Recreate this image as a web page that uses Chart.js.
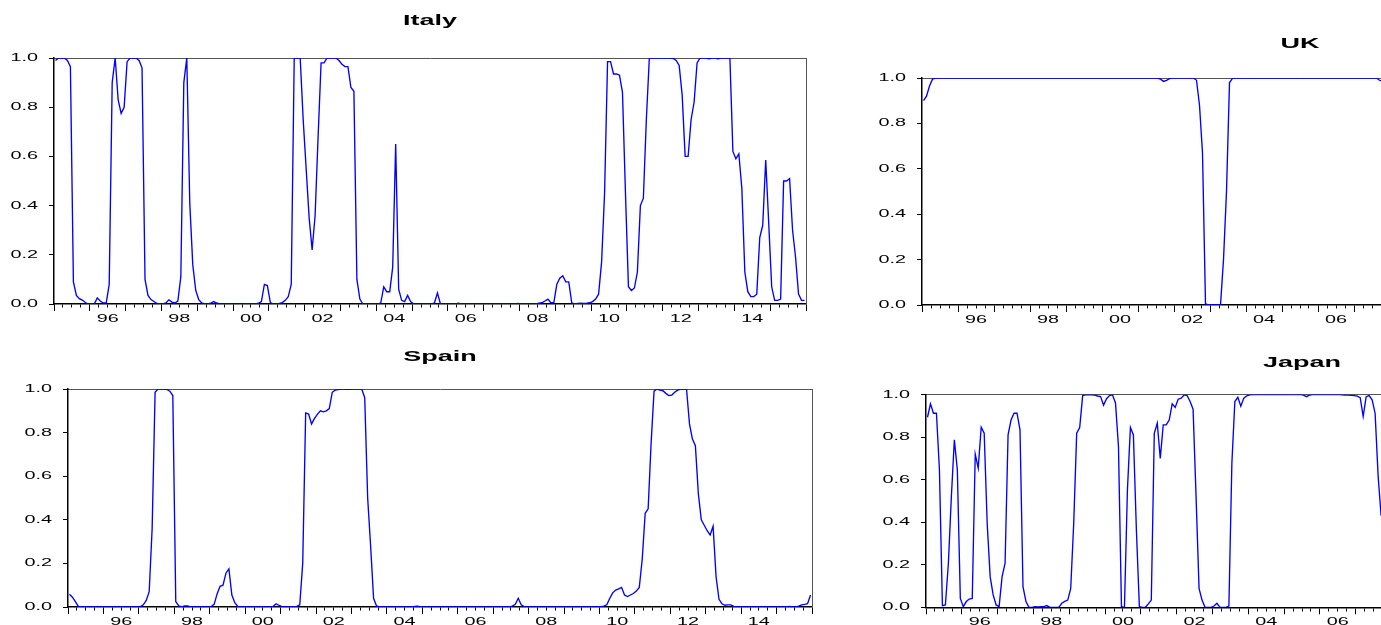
<!DOCTYPE html>
<html>
<head>
<meta charset="utf-8">
<script src="https://cdn.jsdelivr.net/npm/chart.js@4.4.1/dist/chart.umd.min.js"></script>
<style>
  html, body { margin: 0; padding: 0; background: #ffffff; overflow: hidden; width: 1381px; height: 625px; position: relative; }
  canvas { position: absolute; }
</style>
</head>
<body>
<canvas id="cItaly"></canvas>
<canvas id="cUK"></canvas>
<canvas id="cSpain"></canvas>
<canvas id="cJapan"></canvas>
<script>
// ---------------- DATA (monthly, 1995M01 onward) ----------------
const START_YEAR = 1995;
const TOTAL_MONTHS = 252;           // 1995M01 .. 2015M12
const yearLabelYears = [1996, 1998, 2000, 2002, 2004, 2006, 2008, 2010, 2012, 2014];
const yearLabels = ['96', '98', '00', '02', '04', '06', '08', '10', '12', '14'];
const yTickValues = [0, 0.2, 0.4, 0.6, 0.8, 1.0];
const yTickLabels = ['0.0', '0.2', '0.4', '0.6', '0.8', '1.0'];

const italy = [
  0.99,1.0,1.0,1.0,0.99,0.965,0.09,0.035,0.022,0.016,0.006,0.0,
  0.0,0.0,0.025,0.012,0.004,0.005,0.08,0.9,1.0,0.83,0.775,0.8,
  0.985,1.0,1.0,1.0,0.99,0.96,0.1,0.035,0.018,0.01,0.002,0.0,
  0.0,0.004,0.017,0.008,0.004,0.012,0.11,0.9,1.0,0.41,0.16,0.055,
  0.018,0.004,0.0,0.0,0.003,0.01,0.004,0.0,0.0,0.0,0.001,0.0,
  0.0,0.0,0.0,0.0,0.001,0.0,0.0,0.0,0.003,0.01,0.08,0.075,
  0.006,0.0,0.0,0.002,0.006,0.015,0.03,0.08,1.0,1.0,1.0,0.75,
  0.55,0.35,0.22,0.36,0.68,0.98,0.98,1.0,1.0,1.0,1.0,0.99,
  0.975,0.965,0.965,0.88,0.865,0.1,0.02,0.0,0.0,0.0,0.0,0.0,
  0.0,0.005,0.07,0.05,0.05,0.15,0.65,0.06,0.015,0.01,0.035,0.01,
  0.0,0.0,0.0,0.0,0.0,0.0,0.0,0.005,0.045,0.0,0.0,0.0,
  0.0,0.0,0.0,0.003,0.0,0.0,0.0,0.0,0.0,0.0,0.0,0.0,
  0.0,0.0,0.0,0.0,0.0,0.0,0.0,0.0,0.0,0.0,0.0,0.002,
  0.0,0.0,0.0,0.0,0.0,0.0,0.003,0.005,0.012,0.02,0.005,0.006,
  0.08,0.105,0.115,0.09,0.09,0.005,0.0,0.002,0.003,0.002,0.003,0.005,
  0.01,0.02,0.04,0.17,0.45,0.985,0.985,0.935,0.935,0.93,0.86,0.45,
  0.07,0.055,0.065,0.13,0.4,0.43,0.75,1.0,1.0,1.0,1.0,1.0,
  1.0,1.0,1.0,0.998,0.99,0.97,0.85,0.6,0.6,0.75,0.82,0.98,
  1.0,1.0,1.0,0.997,1.0,1.0,0.997,1.0,1.0,1.0,1.0,0.62,
  0.59,0.61,0.47,0.13,0.05,0.03,0.03,0.04,0.27,0.32,0.585,0.33,
  0.07,0.015,0.015,0.02,0.5,0.5,0.51,0.3,0.19,0.04,0.015,0.015
];

const spain = [
  0.058,0.045,0.025,0.003,0.0,0.0,0.0,0.0,0.0,0.0,0.0,0.0,
  0.0,0.0,0.0,0.0,0.0,0.0,0.0,0.0,0.0,0.0,0.0,0.0,
  0.002,0.01,0.03,0.07,0.36,0.985,1.0,1.0,1.0,0.998,0.99,0.97,
  0.025,0.005,0.0,0.005,0.005,0.0,0.0,0.0,0.0,0.0,0.0,0.0,
  0.002,0.012,0.06,0.095,0.1,0.155,0.175,0.055,0.02,0.003,0.0,0.0,
  0.0,0.0,0.0,0.0,0.0,0.0,0.0,0.0,0.0,0.003,0.015,0.007,
  0.002,0.0,0.0,0.0,0.0,0.003,0.01,0.2,0.89,0.885,0.84,0.865,
  0.885,0.9,0.895,0.9,0.91,0.985,0.995,0.997,1.0,1.0,0.998,0.998,
  1.0,1.0,1.0,1.0,0.96,0.5,0.28,0.04,0.005,0.0,0.0,0.0,
  0.0,0.0,0.0,0.0,0.0,0.0,0.0,0.0,0.0,0.003,0.004,0.0,
  0.0,0.0,0.0,0.0,0.0,0.0,0.0,0.0,0.0,0.0,0.0,0.0,
  0.0,0.0,0.0,0.0,0.0,0.0,0.0,0.0,0.0,0.0,0.0,0.0,
  0.0,0.0,0.0,0.0,0.0,0.0,0.004,0.012,0.04,0.01,0.002,0.0,
  0.0,0.0,0.0,0.0,0.0,0.0,0.0,0.0,0.0,0.0,0.0,0.0,
  0.0,0.0,0.0,0.0,0.0,0.0,0.0,0.0,0.0,0.0,0.0,0.0,
  0.002,0.004,0.01,0.04,0.065,0.078,0.083,0.09,0.055,0.048,0.055,0.062,
  0.073,0.09,0.22,0.43,0.45,0.75,0.99,1.0,0.995,0.992,0.98,0.97,
  0.972,0.985,0.995,1.0,1.0,1.0,0.84,0.77,0.74,0.52,0.4,0.375,
  0.35,0.33,0.37,0.14,0.035,0.015,0.008,0.01,0.01,0.003,0.0,0.0,
  0.0,0.0,0.0,0.0,0.0,0.0,0.0,0.0,0.0,0.0,0.0,0.0,
  0.0,0.0,0.0,0.0,0.003,0.0,0.0,0.004,0.01,0.012,0.015,0.055
];

// visible part only (panel is cut at the window edge)
const uk = [
  0.9,0.92,0.965,0.995,1.0,1.0,1.0,1.0,1.0,1.0,1.0,1.0,
  1.0,1.0,1.0,1.0,1.0,1.0,1.0,1.0,1.0,1.0,1.0,1.0,
  1.0,1.0,1.0,1.0,1.0,1.0,1.0,1.0,1.0,1.0,1.0,1.0,
  1.0,1.0,1.0,1.0,1.0,1.0,1.0,1.0,1.0,1.0,1.0,1.0,
  1.0,1.0,1.0,1.0,1.0,1.0,1.0,1.0,1.0,1.0,1.0,1.0,
  1.0,1.0,1.0,1.0,1.0,1.0,1.0,1.0,1.0,1.0,1.0,1.0,
  1.0,1.0,1.0,1.0,1.0,1.0,1.0,0.995,0.985,0.99,0.997,1.0,
  1.0,1.0,1.0,1.0,1.0,1.0,1.0,0.99,0.88,0.67,0.005,0.0,
  0.0,0.0,0.0,0.0,0.2,0.5,0.98,0.998,1.0,1.0,1.0,1.0,
  1.0,1.0,1.0,1.0,1.0,1.0,1.0,1.0,1.0,1.0,1.0,1.0,
  1.0,1.0,1.0,1.0,1.0,1.0,1.0,1.0,1.0,1.0,1.0,1.0,
  1.0,1.0,1.0,1.0,1.0,1.0,1.0,1.0,1.0,1.0,1.0,1.0,
  1.0,1.0,1.0,1.0,1.0,1.0,1.0,1.0,0.99,0.985
];

const japan = [
  0.893,0.956,0.912,0.912,0.646,0.008,0.011,0.207,0.52,0.787,0.646,0.042,
  0.003,0.027,0.039,0.042,0.72,0.654,0.846,0.818,0.395,0.144,0.058,0.011,
  0.003,0.144,0.207,0.81,0.88,0.912,0.912,0.834,0.097,0.027,0.0,0.0,
  0.003,0.002,0.003,0.003,0.008,0.0,0.0,0.0,0.0,0.019,0.028,0.034,
  0.089,0.395,0.818,0.845,0.995,0.998,0.998,0.998,0.997,0.993,0.99,0.95,
  0.98,0.995,0.998,0.96,0.755,0.003,0.0,0.552,0.845,0.81,0.364,0.003,
  0.0,0.0,0.016,0.034,0.818,0.865,0.70,0.857,0.857,0.88,0.956,0.939,
  0.978,0.983,0.998,0.995,0.967,0.931,0.52,0.089,0.034,0.0,0.0,0.0,
  0.006,0.019,0.0,0.0,0.0,0.006,0.677,0.967,0.987,0.945,0.983,0.994,
  0.998,1.0,1.0,1.0,1.0,1.0,1.0,1.0,1.0,1.0,1.0,1.0,
  1.0,1.0,1.0,1.0,1.0,1.0,0.997,0.99,0.997,1.0,1.0,1.0,
  1.0,1.0,1.0,1.0,1.0,1.0,1.0,0.998,0.997,0.997,0.996,0.995,
  0.992,0.985,0.897,0.99,0.995,0.975,0.912,0.62,0.43
];

// ---------------- RENDERING ----------------
Chart.defaults.font.family = '"Liberation Sans", Arial, Helvetica, sans-serif';
Chart.defaults.color = '#000';

const TEXT_STRETCH = 1.8; // reference text is horizontally widened
const stretchText = {
  id: 'stretchText',
  beforeDraw(chart) {
    const ctx = chart.ctx;
    if (ctx.__stretched) return;
    const orig = ctx.fillText;
    ctx.fillText = function (text, x, y) {
      this.save();
      this.translate(x, y);
      this.scale(TEXT_STRETCH, 1);
      orig.call(this, text, 0, 0);
      this.restore();
    };
    ctx.__stretched = true;
  }
};

function isMajor(v) { return Math.round(v + 0.5) % 12 === 0; }
function xLabel(v) {
  const m = Math.round(v + 0.5) - 6;
  if (m % 12 !== 0) return '';
  const idx = yearLabelYears.indexOf(START_YEAR + m / 12);
  return idx >= 0 ? yearLabels[idx] : '';
}

function makePanel(id, title, values, g) {
  const cv = document.getElementById(id);
  cv.width = g.w; cv.height = g.h;
  cv.style.left = g.left + 'px'; cv.style.top = g.top + 'px';
  cv.style.width = g.w + 'px'; cv.style.height = g.h + 'px';
  const pts = values.map((v, i) => ({ x: i, y: v }));
  return new Chart(cv, {
    type: 'line',
    data: { datasets: [{ data: pts, borderColor: '#0000ff', borderWidth: 1.35, pointRadius: 0, fill: false, tension: 0 }] },
    options: {
      responsive: false, animation: false, devicePixelRatio: 1, events: [],
      layout: { padding: 0 },
      plugins: {
        legend: { display: false }, tooltip: { enabled: false },
        title: { display: true, text: title, color: '#000', font: { size: 15, weight: 'bold' },
                 padding: { top: g.tTop, bottom: g.tBottom } }
      },
      scales: {
        x: {
          type: 'linear', position: 'bottom', min: -0.5, max: TOTAL_MONTHS - 0.5,
          afterFit: s => { s.height = g.xH; },
          afterBuildTicks: s => {
            const t = [];
            for (let m = 0; m <= TOTAL_MONTHS; m += 3) t.push({ value: m - 0.5 });
            s.ticks = t;
          },
          ticks: { autoSkip: false, maxRotation: 0, minRotation: 0, padding: 1, color: '#000',
                   font: { size: 11 }, callback: v => xLabel(v) },
          grid: { drawOnChartArea: false, drawTicks: true, tickLength: 7, tickWidth: 1, tickColor: '#000',
                  tickBorderDash: c => (c.tick && isMajor(c.tick.value)) ? [] : [3, 40] },
          border: { display: true, color: '#000', width: 1.5 }
        },
        x2: {
          type: 'linear', position: 'top', min: -0.5, max: TOTAL_MONTHS - 0.5,
          ticks: { display: false }, grid: { drawOnChartArea: false, drawTicks: false },
          border: { display: true, color: '#555', width: 1 }
        },
        y: {
          type: 'linear', position: 'left', min: 0, max: 1,
          afterFit: s => { s.width = g.yW; },
          afterBuildTicks: s => { s.ticks = yTickValues.map(v => ({ value: v })); },
          ticks: { padding: 11, color: '#000', font: { size: 11 },
                   callback: v => yTickLabels[Math.round(v * 5)] },
          grid: { drawOnChartArea: false, drawTicks: true, tickLength: 5, tickColor: '#000' },
          border: { display: true, color: '#000', width: 1.5 }
        },
        y2: {
          type: 'linear', position: 'right', min: 0, max: 1,
          afterFit: s => { s.width = g.rightPad; },
          ticks: { display: false }, grid: { drawOnChartArea: false, drawTicks: false },
          border: { display: true, color: '#555', width: 1 }
        }
      }
    },
    plugins: [stretchText]
  });
}

makePanel('cItaly', 'Italy', italy, { left: 0, top: 0, w: 860, h: 330, yW: 54, rightPad: 54, tTop: 12, tBottom: 28, xH: 26 });
makePanel('cUK', 'UK', uk, { left: 868, top: 0, w: 864, h: 330, yW: 54, rightPad: 54, tTop: 35, tBottom: 25, xH: 25 });
makePanel('cSpain', 'Spain', spain, { left: 0, top: 330, w: 880, h: 295, yW: 68, rightPad: 68, tTop: 18, tBottom: 23, xH: 18 });
makePanel('cJapan', 'Japan', japan, { left: 872, top: 330, w: 860, h: 295, yW: 54, rightPad: 54, tTop: 24, tBottom: 22.5, xH: 17.7 });
</script>
</body>
</html>
